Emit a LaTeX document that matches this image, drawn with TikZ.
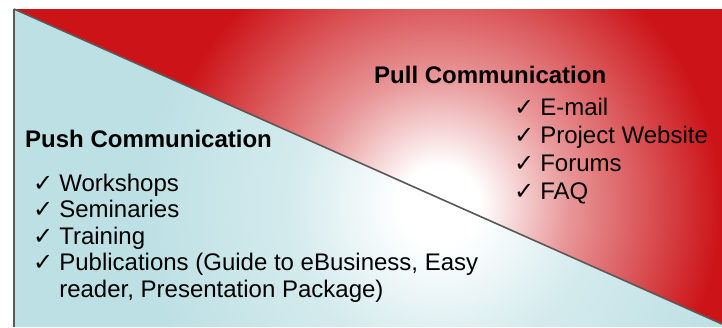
\documentclass[tikz,border=0pt]{standalone}
\usepackage{fontspec}
\setmainfont{Liberation Sans}
\newfontfamily\tickfont{DejaVu Sans}
\usetikzlibrary{positioning}
\definecolor{pullred}{RGB}{204,20,24}
\definecolor{pushblue}{RGB}{189,224,228}
\pgfdeclareradialshading{pullglow}{\pgfpoint{0bp}{0bp}}{color(0bp)=(white); color(2bp)=(white); color(6.5bp)=(pullred!45); color(14bp)=(pullred); color(50bp)=(pullred)}
\pgfdeclareradialshading{pushglow}{\pgfpoint{0bp}{0bp}}{color(0bp)=(white); color(2bp)=(white); color(7.5bp)=(pushblue!65); color(15bp)=(pushblue); color(50bp)=(pushblue)}
\tikzset{
	heading/.style = {
		anchor=base west,
		inner sep=0pt,
		font=\fontsize{24}{27}\selectfont\bfseries
	},
	items/.style = {
		anchor=base west,
		inner sep=0pt,
		font=\fontsize{24}{#1}\selectfont
	},
	border/.style = {
		draw=black!65,
		line width=1.6
	}
}
\newcommand{\itemtick}{{\tickfont ✓}}

\begin{document}
\begin{tikzpicture}[x=1pt,y=-1pt]
\useasboundingbox (0,0) rectangle (722,327);
\coordinate (topleft) at (14,9);
\coordinate (topright) at (722,9);
\coordinate (midright) at (722,324);
\coordinate (botright) at (722,327);
\coordinate (botleft) at (14,327);

% pull side
\begin{scope}
\clip (topleft) -- (topright) -- (midright) -- cycle;
\shade[shading=pullglow] (440,205) circle (500pt);
\end{scope}
% push side
\begin{scope}
\clip (topleft) -- (midright) -- (botright) -- (botleft) -- cycle;
\shade[shading=pushglow] (440,205) circle (500pt);
\end{scope}

\draw[border] (topleft) -- (midright);
\draw[border] (topleft) -- (botleft);

\node[heading] (pullhead) at (374,83) {Pull Communication};
\node[items=28] (pulllist) at (514,115) {\begin{tabular}[t]{@{}l@{\hspace{6pt}}l@{}}
\itemtick & E-mail \\
\itemtick & Project Website \\
\itemtick & Forums \\
\itemtick & FAQ
\end{tabular}};

\node[heading] (pushhead) at (25,147) {Push Communication};
\node[items=26.5] (pushlist) at (33,191) {\begin{tabular}[t]{@{}l@{\hspace{6pt}}l@{}}
\itemtick & Workshops \\
\itemtick & Seminaries \\
\itemtick & Training \\
\itemtick & Publications (Guide to eBusiness, Easy \\
 & reader, Presentation Package)
\end{tabular}};
\end{tikzpicture}
\end{document}
